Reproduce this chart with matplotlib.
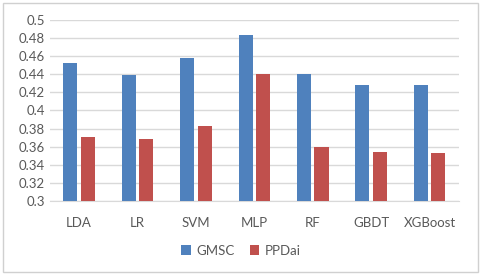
import numpy as np
import matplotlib
matplotlib.use("Agg")
import matplotlib.pyplot as plt
from matplotlib.patches import Rectangle

models = ["LDA", "LR", "SVM", "MLP", "RF", "GBDT", "XGBoost"]
gmsc = [0.453, 0.439, 0.458, 0.484, 0.441, 0.428, 0.428]
ppdai = [0.371, 0.368, 0.383, 0.440, 0.359, 0.354, 0.353]
yticks = [0.3, 0.32, 0.34, 0.36, 0.38, 0.4, 0.42, 0.44, 0.46, 0.48, 0.5]

plt.rcParams['font.family'] = ['Lato', 'DejaVu Sans']
txt = '#595959'

fig = plt.figure(figsize=(4.82, 2.74), dpi=100)
ax = fig.add_axes([0.1037, 0.2675, 0.848, 0.6585])

x = np.arange(len(models))
w = 0.24
ax.bar(x - 0.15, gmsc, w, color='#4f81bd', label='GMSC', zorder=3)
ax.bar(x + 0.15, ppdai, w, color='#c0504d', label='PPDai', zorder=3)

ax.set_xlim(-0.5, len(models) - 0.5)
ax.set_ylim(0.3, 0.5)
ax.set_yticks(yticks)
ax.set_yticklabels(['%g' % v for v in yticks])
ax.set_xticks(x)
ax.set_xticklabels(models)
ax.tick_params(length=0, colors=txt, labelsize=9.5)
ax.tick_params(axis='x', pad=12)
ax.yaxis.grid(True, color='#d9d9d9', linewidth=1, zorder=0)
for s in ['top', 'right', 'left']:
    ax.spines[s].set_visible(False)
ax.spines['bottom'].set_color('#d9d9d9')

leg = fig.legend(loc='center', bbox_to_anchor=(0.5, 0.085), ncol=2, frameon=False,
                 fontsize=9.5, handlelength=0.7, handleheight=0.7, handletextpad=0.4,
                 columnspacing=1.2)
for t in leg.get_texts():
    t.set_color(txt)

fig.patches.append(Rectangle((0.006, 0.008), 0.985, 0.98, transform=fig.transFigure,
                             fill=False, edgecolor='#d0d0d0', linewidth=1))

fig.savefig('out.png', dpi=100)
